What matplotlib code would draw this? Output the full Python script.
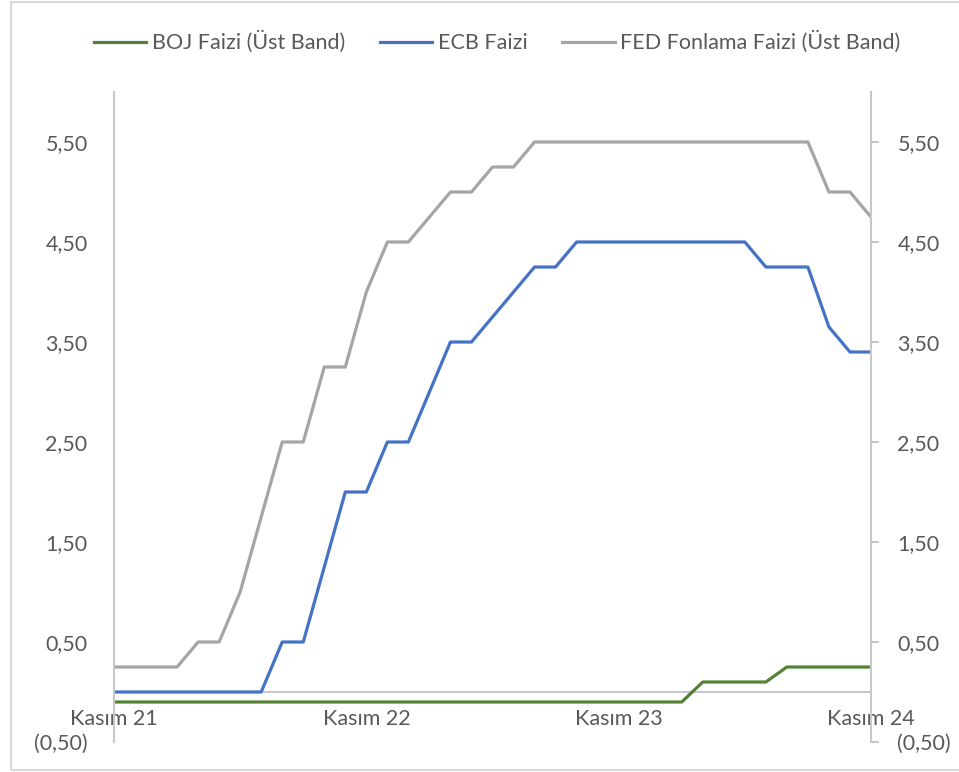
import numpy as np
import matplotlib.pyplot as plt
from matplotlib.patches import Rectangle

plt.rcParams['font.family'] = ['Lato', 'DejaVu Sans']

# monthly, Kasım 21 .. Kasım 24 (37 points)
months = np.arange(37)
boj = [-0.1] * 28 + [0.1] * 4 + [0.25] * 5
ecb = [0, 0, 0, 0, 0, 0, 0, 0, 0.5, 0.5, 1.25, 2.0, 2.0, 2.5, 2.5, 3.0, 3.5, 3.5,
       3.75, 4.0, 4.25, 4.25, 4.5, 4.5, 4.5, 4.5, 4.5, 4.5, 4.5, 4.5, 4.5,
       4.25, 4.25, 4.25, 3.65, 3.4, 3.4]
fed = [0.25, 0.25, 0.25, 0.25, 0.5, 0.5, 1.0, 1.75, 2.5, 2.5, 3.25, 3.25, 4.0,
       4.5, 4.5, 4.75, 5.0, 5.0, 5.25, 5.25, 5.5, 5.5, 5.5, 5.5, 5.5, 5.5, 5.5,
       5.5, 5.5, 5.5, 5.5, 5.5, 5.5, 5.5, 5.0, 5.0, 4.75]

xtick_pos = [0, 12, 24, 36]
xtick_labels = ['Kasım 21', 'Kasım 22', 'Kasım 23', 'Kasım 24']
yticks = [-0.5, 0.5, 1.5, 2.5, 3.5, 4.5, 5.5]
ytick_labels = ['(0,50)', '0,50', '1,50', '2,50', '3,50', '4,50', '5,50']

txt = '#595959'
axc = '#C8C8C8'
fs = 15.5

fig = plt.figure(figsize=(9.59, 7.72), dpi=100)
fig.patches.append(Rectangle((11/959, 2/772), 1.0, 768/772, transform=fig.transFigure,
                             fill=False, edgecolor='#D9D9D9', linewidth=1.5))
ax = fig.add_axes([114/959, 30/772, 757/959, 650/772])

ax.plot(months, boj, color='#548235', lw=2.3, label='BOJ Faizi (Üst Band)')
ax.plot(months, ecb, color='#4472C4', lw=2.3, label='ECB Faizi')
ax.plot(months, fed, color='#A5A5A5', lw=2.3, label='FED Fonlama Faizi (Üst Band)')

ax.set_xlim(0, 36)
ax.set_ylim(-0.5, 6.0)

ax.spines['top'].set_visible(False)
ax.spines['bottom'].set_position(('data', 0))
for s in ['left', 'right', 'bottom']:
    ax.spines[s].set_color(axc)
    ax.spines[s].set_linewidth(1.5)
ax.spines['bottom'].set_zorder(1)

ax.set_xticks(xtick_pos)
ax.set_xticklabels(xtick_labels)
ax.tick_params(axis='x', length=0, pad=12, labelsize=fs, labelcolor=txt)

ax.set_yticks(yticks)
ax.set_yticklabels(ytick_labels)
ax.tick_params(axis='y', left=False, right=True, labelleft=True, labelright=True,
               direction='out', length=6, width=1.5, color=axc,
               labelsize=fs, labelcolor=txt, pad=13)

leg = fig.legend(loc='center', bbox_to_anchor=(497/959, 1 - 42/772), ncol=3,
                 frameon=False, fontsize=fs, handlelength=2.45, handletextpad=0.25,
                 columnspacing=1.6)
for t in leg.get_texts():
    t.set_color(txt)

fig.savefig('out.png', dpi=100)
